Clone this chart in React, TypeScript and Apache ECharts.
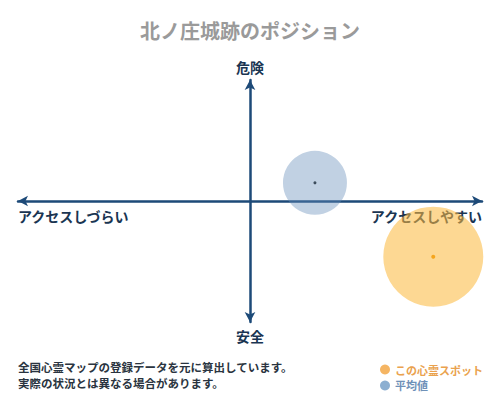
import React, { useEffect, useRef } from "react";
import * as echarts from "echarts";

const titleText = "北ノ庄城跡のポジション";
const seriesNames = ["この心霊スポット", "平均値"];
// [x, y] position: x = access (right = easy), y = danger (up = dangerous)
const spotPoint = [0.79, -0.46];
const averagePoint = [0.28, 0.15];
const bubbleSizes = [100, 64];
const axisLabels = { top: "危険", bottom: "安全", left: "アクセスしづらい", right: "アクセスしやすい" };
const noteLines = ["全国心霊マップの登録データを元に算出しています。", "実際の状況とは異なる場合があります。"];

const FONT = "'Noto Sans CJK JP', 'Noto Sans', sans-serif";
const NAVY = "#1d4a78";

const App: React.FC = () => {
  const chartRef = useRef<HTMLDivElement>(null);

  useEffect(() => {
    if (!chartRef.current) return;
    const chart = echarts.init(chartRef.current, null, { renderer: "svg" });

    const axisLabelStyle = {
      fill: "#1a3552",
      font: `bold 14px ${FONT}`,
    };

    const option = {
      animation: false,
      backgroundColor: "#ffffff",
      textStyle: { fontFamily: FONT },
      title: {
        text: titleText,
        left: "center",
        top: 15,
        textStyle: { fontSize: 20, fontWeight: "bold", color: "#9a9a9a", fontFamily: FONT },
      },
      grid: { left: 18, right: 18, top: 80, bottom: 78 },
      xAxis: {
        type: "value",
        min: -1,
        max: 1,
        splitLine: { show: false },
        axisTick: { show: false },
        axisLabel: { show: false },
        axisLine: {
          onZero: true,
          symbol: ["arrow", "arrow"],
          symbolSize: [8, 10],
          lineStyle: { color: NAVY, width: 2.5 },
        },
      },
      yAxis: {
        type: "value",
        min: -1,
        max: 1,
        splitLine: { show: false },
        axisTick: { show: false },
        axisLabel: { show: false },
        axisLine: {
          onZero: true,
          symbol: ["arrow", "arrow"],
          symbolSize: [8, 10],
          lineStyle: { color: NAVY, width: 2.5 },
        },
      },
      legend: {
        orient: "vertical",
        left: 375,
        top: 359,
        itemWidth: 10,
        itemHeight: 10,
        itemGap: 5,
        icon: "circle",
        data: [
          {
            name: seriesNames[0],
            itemStyle: { color: "#f3a23c" },
            textStyle: { color: "#eaa24e", fontSize: 11, fontWeight: "bold", fontFamily: FONT },
          },
          {
            name: seriesNames[1],
            itemStyle: { color: "#6f9bc6" },
            textStyle: { color: "#6f91b8", fontSize: 11, fontWeight: "bold", fontFamily: FONT },
          },
        ],
      },
      series: [
        {
          name: seriesNames[1],
          type: "scatter",
          data: [averagePoint],
          symbolSize: bubbleSizes[1],
          itemStyle: { color: "rgba(100,140,185,0.5)" },
          z: 3,
        },
        {
          name: seriesNames[0],
          type: "scatter",
          data: [spotPoint],
          symbolSize: bubbleSizes[0],
          itemStyle: { color: "rgba(252,186,62,0.7)" },
          z: 3,
        },
        {
          name: "avgCenter",
          type: "scatter",
          data: [averagePoint],
          symbolSize: 3,
          itemStyle: { color: "#1a2a3a" },
          z: 4,
        },
        {
          name: "spotCenter",
          type: "scatter",
          data: [spotPoint],
          symbolSize: 4,
          itemStyle: { color: "#f39800" },
          z: 4,
        },
      ],
      graphic: [
        { type: "text", x: 250, y: 67, style: { ...axisLabelStyle, text: axisLabels.top, textAlign: "center", textVerticalAlign: "middle" } },
        { type: "text", x: 250, y: 336, style: { ...axisLabelStyle, text: axisLabels.bottom, textAlign: "center", textVerticalAlign: "middle" } },
        { type: "text", x: 18, y: 216, style: { ...axisLabelStyle, text: axisLabels.left, textAlign: "left", textVerticalAlign: "middle" } },
        { type: "text", x: 482, y: 216, style: { ...axisLabelStyle, text: axisLabels.right, textAlign: "right", textVerticalAlign: "middle" } },
        {
          type: "text",
          x: 18,
          y: 367,
          style: { text: noteLines[0], fill: "#2a3440", font: `bold 11.5px ${FONT}`, textVerticalAlign: "middle" },
        },
        {
          type: "text",
          x: 18,
          y: 383,
          style: { text: noteLines[1], fill: "#2a3440", font: `bold 11.5px ${FONT}`, textVerticalAlign: "middle" },
        },
      ],
    };

    chart.setOption(option);
    return () => {
      chart.dispose();
    };
  }, []);

  return <div ref={chartRef} style={{ width: 500, height: 400, margin: -8 }} />;
};

export default App;
